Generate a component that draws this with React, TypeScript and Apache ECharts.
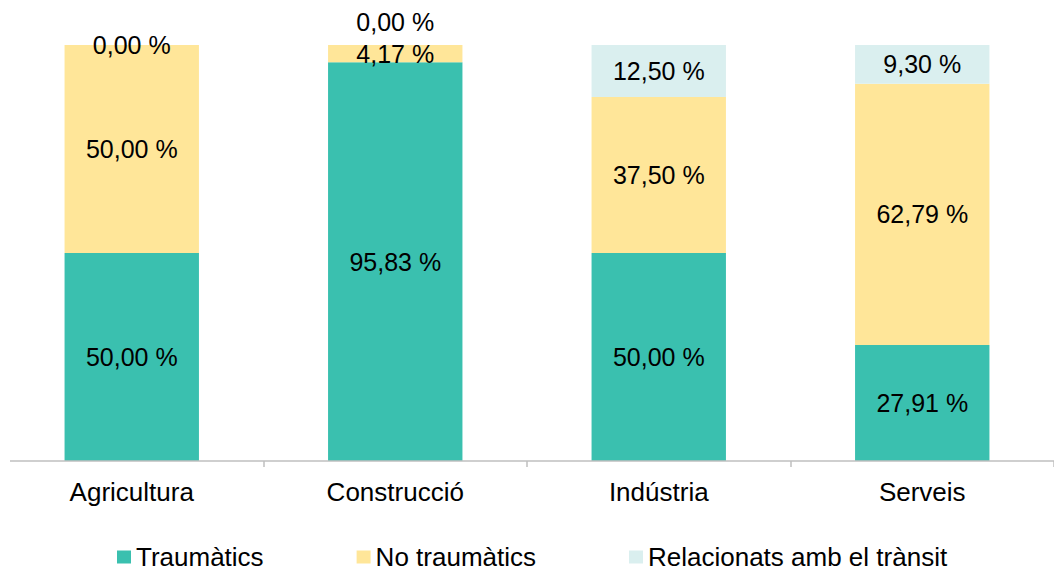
import React, { useEffect, useRef } from "react";
import * as echarts from "echarts";

const categories = ["Agricultura", "Construcció", "Indústria", "Serveis"];
const traumatics = [50.0, 95.83, 50.0, 27.91];
const noTraumatics = [50.0, 4.17, 37.5, 62.79];
const transit = [0.0, 0.0, 12.5, 9.3];
const seriesNames = ["Traumàtics", "No traumàtics", "Relacionats amb el trànsit"];
const colors = ["#3AC0AF", "#FFE699", "#DAEFEF"];

const fmt = (v: number) => v.toFixed(2).replace(".", ",") + " %";
const FONT = "Liberation Sans, Arial, sans-serif";

export default function App() {
  const ref = useRef<HTMLDivElement>(null);
  useEffect(() => {
    if (!ref.current) return;
    const chart = echarts.init(ref.current, null, { renderer: "svg" });
    const label = {
      show: true,
      position: "inside" as const,
      color: "#000",
      fontSize: 25,
      fontFamily: FONT,
      formatter: (p: any) => fmt(p.value),
    };
    const mk = (name: string, data: number[], color: string, idx: number) => ({
      name,
      type: "bar",
      stack: "total",
      barWidth: "51%",
      itemStyle: { color },
      label,
      data: data.map((v, i) =>
        idx === 2 && i === 1 ? { value: v, label: { offset: [0, -23] } } : v
      ),
    });
    chart.setOption({
      animation: false,
      textStyle: { fontFamily: FONT },
      grid: { left: -3, right: -7, top: 45, bottom: 110, containLabel: false },
      legend: {
        top: 539,
        left: 112,
        itemWidth: 14,
        itemHeight: 13,
        itemGap: 93,
        icon: "rect",
        textStyle: { fontSize: 26, color: "#000", fontFamily: FONT },
        data: seriesNames,
      },
      xAxis: {
        type: "category",
        data: categories,
        axisLine: { show: false },
        axisTick: { show: true, length: 6, lineStyle: { color: "#BFBFBF", width: 1.5 } },
        axisLabel: { color: "#000", fontSize: 26, margin: 18, fontFamily: FONT },
      },
      yAxis: {
        type: "value",
        min: 0,
        max: 100,
        show: false,
        splitLine: { show: false },
      },
      graphic: [
        {
          type: "rect",
          shape: { x: 0, y: 455, width: 9, height: 16 },
          style: { fill: "#fff" },
          z: 20,
        },
        {
          type: "line",
          shape: { x1: 10, y1: 461, x2: 1054, y2: 461 },
          style: { stroke: "#BFBFBF", lineWidth: 1.5 },
          z: 10,
        },
      ],
      series: [
        mk(seriesNames[0], traumatics, colors[0], 0),
        mk(seriesNames[1], noTraumatics, colors[1], 1),
        mk(seriesNames[2], transit, colors[2], 2),
      ],
    });
    return () => chart.dispose();
  }, []);
  return (
    <div
      ref={ref}
      style={{ position: "fixed", left: 0, top: 0, width: 1054, height: 571, background: "#fff" }}
    />
  );
}
